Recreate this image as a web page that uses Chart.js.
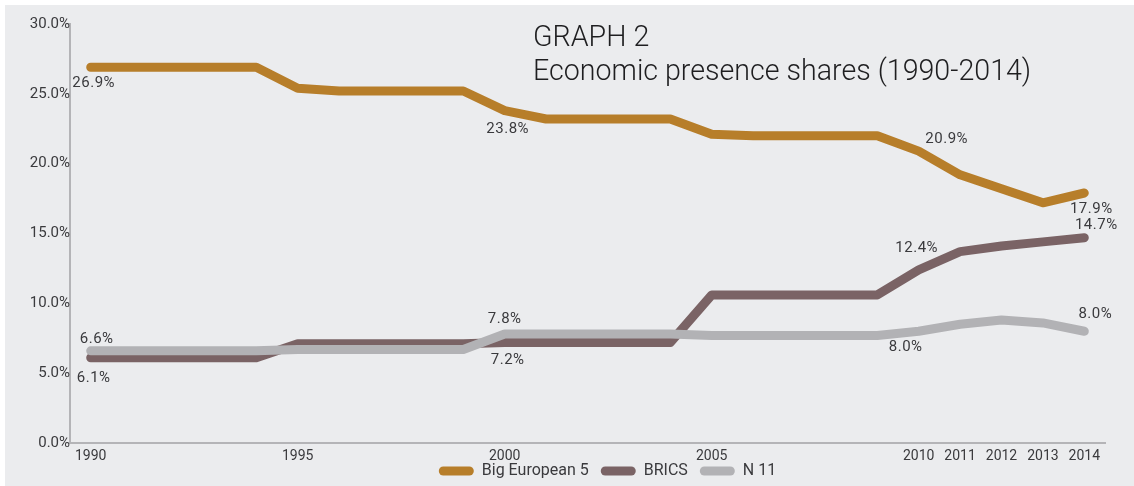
<!DOCTYPE html>
<html>
<head>
<meta charset="utf-8">
<script src="https://cdn.jsdelivr.net/npm/chart.js@4.4.1/dist/chart.umd.min.js"></script>
<style>
  html, body { margin: 0; padding: 0; background: #fff; }
  #wrap {
    position: absolute; left: 5px; top: 5px;
    width: 1129px; height: 481px;
    background: #ebecee;
  }
</style>
</head>
<body>
<div id="wrap"><canvas id="chart" width="1129" height="481"></canvas></div>
<script>
// --- data ------------------------------------------------------------------
const years = ['1990', '1991', '1992', '1993', '1994', '1995', '1996', '1997', '1998', '1999',
  '2000', '2001', '2002', '2003', '2004', '2005', '2006', '2007', '2008', '2009',
  '2010', '2011', '2012', '2013', '2014'];
const shownYears = ['1990', '1995', '2000', '2005', '2010', '2011', '2012', '2013', '2014'];

const bigEuropean5 = [26.9, 26.9, 26.9, 26.9, 26.9, 25.4, 25.2, 25.2, 25.2, 25.2,
  23.8, 23.2, 23.2, 23.2, 23.2, 22.1, 22.0, 22.0, 22.0, 22.0,
  20.9, 19.2, 18.2, 17.2, 17.9];
const brics = [6.1, 6.1, 6.1, 6.1, 6.1, 7.1, 7.1, 7.1, 7.1, 7.1,
  7.2, 7.2, 7.2, 7.2, 7.2, 10.6, 10.6, 10.6, 10.6, 10.6,
  12.4, 13.7, 14.1, 14.4, 14.7];
const n11 = [6.6, 6.6, 6.6, 6.6, 6.6, 6.7, 6.7, 6.7, 6.7, 6.7,
  7.8, 7.8, 7.8, 7.8, 7.8, 7.7, 7.7, 7.7, 7.7, 7.7,
  8.0, 8.5, 8.8, 8.6, 8.0];

const seriesNames = ['Big European 5', 'BRICS', 'N 11'];
const yTicks = [0, 5, 10, 15, 20, 25, 30];
const titleLines = ['GRAPH 2', 'Economic presence shares (1990-2014)'];

// which points carry a value label: [dataset, point index, dx, dy]
const pointLabels = [
  [0, 0, 3, 16], [0, 10, 3, 19], [0, 20, 28, -12], [0, 24, 7, 16],
  [1, 0, 3, 20], [1, 10, 3, 18], [1, 20, -2, -22], [1, 24, 12, -12],
  [2, 0, 6, -12], [2, 10, 0, -15], [2, 20, -13, 16], [2, 24, 11, -17],
];

const COLORS = ['#b77e2a', '#7a6365', '#b2b2b5'];
const FONT = 'Roboto, "Noto Sans", sans-serif';
const TEXT = '#3a3a3d';

// value labels + title
const annotate = {
  id: 'annotate',
  afterDatasetsDraw(chart) {
    const { ctx, chartArea } = chart;
    ctx.save();
    ctx.fillStyle = TEXT;
    ctx.font = `15px ${FONT}`;
    ctx.letterSpacing = '0.5px';
    ctx.textAlign = 'center';
    ctx.textBaseline = 'middle';
    pointLabels.forEach(([ds, i, dx, dy]) => {
      const pt = chart.getDatasetMeta(ds).data[i];
      const v = chart.data.datasets[ds].data[i];
      ctx.fillText(v.toFixed(1) + '%', pt.x + dx, pt.y + dy);
    });

    ctx.letterSpacing = '0px';
    ctx.fillStyle = '#1e1e20';
    ctx.font = `300 28.6px ${FONT}`;
    ctx.textAlign = 'left';
    ctx.textBaseline = 'alphabetic';
    titleLines.forEach((line, k) => {
      ctx.fillText(line, chartArea.left + 463, chartArea.top + 22 + k * 34);
    });
    ctx.restore();
  },
  afterLayout(chart) {
    // legend sits a little right of the plot centre and tucked under the ticks
    const lg = chart.legend;
    if (lg) {
      lg.left += 20; lg.right += 20;
      lg.top -= 17; lg.bottom -= 17;
    }
  },
};

new Chart(document.getElementById('chart'), {
  type: 'line',
  data: {
    labels: years,
    datasets: [bigEuropean5, brics, n11].map((d, i) => ({
      label: seriesNames[i],
      data: d,
      borderColor: COLORS[i],
      backgroundColor: COLORS[i],
      borderWidth: 9,
      borderCapStyle: 'round',
      borderJoinStyle: 'round',
      pointRadius: 0,
      tension: 0,
      order: 3 - i,
    })),
  },
  options: {
    responsive: false,
    animation: false,
    layout: { padding: { left: 0, right: 29, top: 19, bottom: -20 } },
    plugins: {
      tooltip: { enabled: false },
      legend: {
        position: 'bottom',
        fullSize: false,
        labels: {
          boxWidth: 35,
          boxHeight: 9,
          useBorderRadius: true,
          borderRadius: 4.5,
          padding: 12,
          color: TEXT,
          font: { family: FONT, size: 16 },
          generateLabels(chart) {
            const items = Chart.defaults.plugins.legend.labels.generateLabels(chart);
            items.forEach((it) => { it.lineWidth = 0; it.fillStyle = COLORS[it.datasetIndex]; });
            return items.sort((a, b) => a.datasetIndex - b.datasetIndex);
          },
        },
      },
    },
    scales: {
      x: {
        type: 'category',
        offset: true,
        afterFit(scale) { scale.height = 25; },
        grid: { display: false, drawTicks: false },
        border: { display: true, color: '#b4b4b7', width: 2 },
        ticks: {
          autoSkip: false,
          maxRotation: 0,
          padding: 5,
          color: TEXT,
          font: { family: FONT, size: 14 },
          callback(v) {
            const y = this.getLabelForValue(v);
            return shownYears.includes(y) ? y : '';
          },
        },
      },
      y: {
        min: 0,
        max: 30,
        afterBuildTicks(scale) { scale.ticks = yTicks.map((v) => ({ value: v })); },
        afterFit(scale) { scale.width = 65; },
        grid: { display: false, drawTicks: false },
        border: { display: true, color: '#b4b4b7', width: 2 },
        ticks: {
          padding: 0,
          color: TEXT,
          font: { family: FONT, size: 15 },
          callback: (v) => v.toFixed(1) + '%',
        },
      },
    },
  },
  plugins: [annotate],
});
</script>
</body>
</html>
